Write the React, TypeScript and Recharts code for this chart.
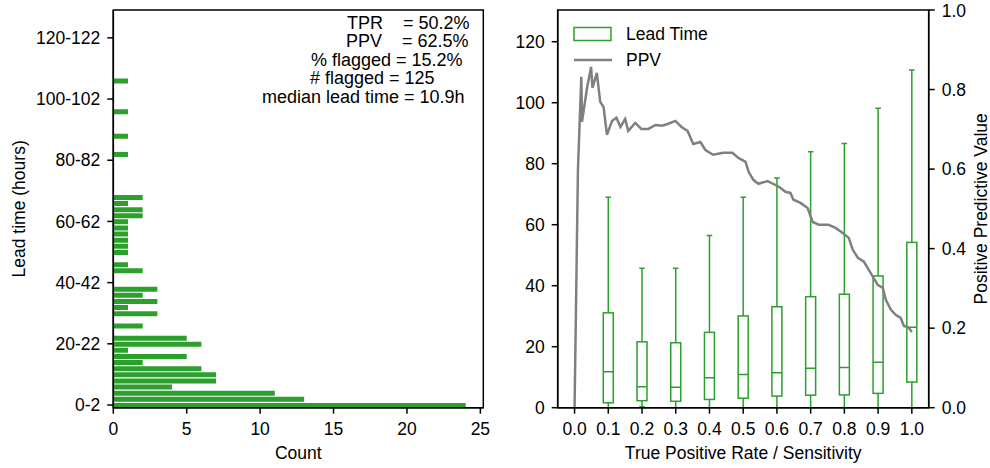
import React from 'react';
import {
  BarChart,
  Bar,
  ComposedChart,
  Line,
  XAxis,
  YAxis,
  ReferenceArea,
  Legend,
} from 'recharts';

const FONT = '"Liberation Sans", Arial, Helvetica, sans-serif';
const GREEN = '#2ca02c';
const GREY = '#808080';
const AXIS = { stroke: '#000', strokeWidth: 1.5 };
const TICK = { fill: '#000', fontSize: 17.5, fontFamily: FONT };
const BOX_W = 10;

// lead-time histogram: count of flagged cases per 2 h bin (bin 0 = 0-2 h)
const binCounts = [
  24, 13, 11, 4, 7, 7, 6, 2, 5, 1,
  6, 5, 0, 2, 0, 3, 1, 3, 2, 3,
  0, 0, 2, 1, 0, 1, 1, 1, 1, 1,
  1, 2, 2, 1, 2, 0, 0, 0, 0, 0,
  0, 1, 0, 0, 1, 0, 0, 0, 1, 0,
  0, 0, 0, 1,
];
const binTicks = [0, 10, 20, 30, 40, 50, 60];
const binTickLabels = ['0-2', '20-22', '40-42', '60-62', '80-82', '100-102', '120-122'];
const countTicks = [0, 5, 10, 15, 20, 25];

const statLines = ['TPR    = 50.2%', 'PPV    = 62.5%', '% flagged = 15.2%', '# flagged = 125', 'median lead time = 10.9h'];

// lead time (hours) box plots per sensitivity level
const tprLevels = [0.1, 0.2, 0.3, 0.4, 0.5, 0.6, 0.7, 0.8, 0.9, 1.0];
const leadLow = [0, 0.3, 0, 0, 0, 0, 0, 0, 0, 0];
const leadQ1 = [1.6, 2.3, 2.1, 2.7, 3.1, 3.8, 4.1, 4.2, 4.7, 8.4];
const leadMedian = [11.8, 6.9, 6.7, 9.8, 10.9, 11.5, 12.9, 13.2, 14.9, 26.4];
const leadQ3 = [31.1, 21.6, 21.3, 24.7, 30.1, 33.1, 36.4, 37.2, 43.2, 54.2];
const leadHigh = [69.0, 45.7, 45.7, 56.5, 69.0, 75.3, 83.9, 86.6, 98.2, 110.7];
const tprTicks = [0, 0.1, 0.2, 0.3, 0.4, 0.5, 0.6, 0.7, 0.8, 0.9, 1.0];
const leadTicks = [0, 20, 40, 60, 80, 100, 120];
const ppvTicks = [0, 0.2, 0.4, 0.6, 0.8, 1.0];

// PPV as a function of TPR
const curveTpr = [
  0, 0.010, 0.020, 0.022, 0.037, 0.049, 0.053, 0.066, 0.076, 0.086,
  0.096, 0.111, 0.124, 0.136, 0.150, 0.159, 0.180, 0.198, 0.219, 0.240,
  0.260, 0.278, 0.299, 0.317, 0.335, 0.352, 0.373, 0.388, 0.411, 0.441,
  0.468, 0.486, 0.507, 0.516, 0.530, 0.545, 0.572, 0.596, 0.610, 0.625,
  0.640, 0.649, 0.670, 0.691, 0.706, 0.724, 0.753, 0.774, 0.795, 0.813,
  0.825, 0.840, 0.858, 0.872, 0.887, 0.899, 0.914, 0.923, 0.938, 0.953,
  0.967, 0.976, 0.991, 1.0,
];
const curvePpv = [
  0, 0.598, 0.832, 0.719, 0.804, 0.857, 0.804, 0.842, 0.769, 0.756,
  0.686, 0.721, 0.729, 0.706, 0.726, 0.696, 0.716, 0.701, 0.701, 0.711,
  0.709, 0.714, 0.721, 0.706, 0.696, 0.663, 0.668, 0.648, 0.636, 0.641,
  0.641, 0.628, 0.618, 0.593, 0.573, 0.563, 0.570, 0.560, 0.553, 0.543,
  0.540, 0.523, 0.515, 0.502, 0.467, 0.460, 0.460, 0.452, 0.439, 0.427,
  0.397, 0.377, 0.367, 0.347, 0.326, 0.309, 0.301, 0.271, 0.246, 0.233,
  0.226, 0.206, 0.201, 0.19,
];

const histData = binCounts.map((count, idx) => ({ idx, count }));
const boxData = tprLevels.map((tpr, i) => ({
  tpr,
  lo: leadLow[i],
  q1: leadQ1[i],
  med: leadMedian[i],
  q3: leadQ3[i],
  hi: leadHigh[i],
}));
const ppvData = curveTpr.map((tpr, i) => ({ tpr, ppv: curvePpv[i] }));

// draws one whisker/box/median glyph inside the [lo, hi] range bar
const BoxShape = (props: any) => {
  const { x, y, width, height, payload } = props;
  if (!payload) return null;
  const top = Math.min(y, y + height);
  const bottom = Math.max(y, y + height);
  const span = payload.hi - payload.lo || 1;
  const py = (v: number) => bottom - ((v - payload.lo) / span) * (bottom - top);
  const cx = x + width / 2;
  const left = cx - BOX_W / 2;
  const cap = BOX_W * 0.28;
  return (
    <g stroke={GREEN} strokeWidth={1.5} fill="none">
      <line x1={cx} x2={cx} y1={py(payload.lo)} y2={py(payload.q1)} />
      <line x1={cx} x2={cx} y1={py(payload.q3)} y2={py(payload.hi)} />
      <line x1={cx - cap} x2={cx + cap} y1={py(payload.lo)} y2={py(payload.lo)} />
      <line x1={cx - cap} x2={cx + cap} y1={py(payload.hi)} y2={py(payload.hi)} />
      <rect x={left} y={py(payload.q3)} width={BOX_W} height={py(payload.q1) - py(payload.q3)} />
      <line x1={left} x2={left + BOX_W} y1={py(payload.med)} y2={py(payload.med)} />
    </g>
  );
};

const renderLegend = (props: any) => {
  const items = props.payload || [];
  return (
    <div style={{ fontFamily: FONT, fontSize: 17.5, color: '#000' }}>
      {items.map((item: any) => (
        <div key={item.value} style={{ display: 'flex', alignItems: 'center', height: 26 }}>
          <svg width={40} height={16} style={{ marginRight: 13 }}>
            {item.type === 'line' ? (
              <line x1={1} x2={39} y1={8} y2={8} stroke={GREY} strokeWidth={2.5} />
            ) : (
              <rect x={1} y={1.5} width={37} height={13} fill="none" stroke={GREEN} strokeWidth={1.5} />
            )}
          </svg>
          <span>{item.value}</span>
        </div>
      ))}
    </div>
  );
};

const xLabel = (text: string, dy: number) => (props: any) => {
  const vb = props.viewBox;
  return (
    <text x={vb.x + vb.width / 2} y={vb.y + dy} textAnchor="middle" fontSize={17.5} fontFamily={FONT} fill="#000">
      {text}
    </text>
  );
};

const yLabel = (text: string, dx: number) => (props: any) => {
  const vb = props.viewBox;
  const x = vb.x + dx;
  const y = vb.y + vb.height / 2;
  return (
    <text x={x} y={y} transform={`rotate(-90, ${x}, ${y})`} textAnchor="middle" fontSize={17.5} fontFamily={FONT} fill="#000">
      {text}
    </text>
  );
};

const StatsBox = () => {
  const starts = [347, 346, 311, 310, 262];
  const baselines = [28.5, 47, 65.5, 84, 102.5];
  return (
    <svg width={500} height={468} style={{ position: 'absolute', left: 0, top: 0, pointerEvents: 'none' }}>
      {statLines.map((line, i) => (
        <text key={line} x={starts[i]} y={baselines[i]} fontSize={18} fontFamily={FONT} fill="#000" style={{ whiteSpace: 'pre' }}>
          {line}
        </text>
      ))}
    </svg>
  );
};

const LeadTimeHistogram = () => (
  <div style={{ position: 'absolute', left: 0, top: 0, width: 500, height: 468 }}>
    <BarChart
      width={500}
      height={468}
      data={histData}
      layout="vertical"
      margin={{ top: 10, right: 16.7, bottom: 0, left: 0 }}
      style={{ fontFamily: FONT }}
    >
      <XAxis
        type="number"
        dataKey="count"
        domain={[0, 25.2]}
        allowDataOverflow
        ticks={countTicks}
        height={60.3}
        tick={TICK}
        tickSize={6}
        tickMargin={9}
        axisLine={AXIS}
        tickLine={AXIS}
        label={{ content: xLabel('Count', 51.6) }}
      />
      <YAxis
        type="number"
        dataKey="idx"
        domain={[-0.44, 64.55]}
        allowDataOverflow
        reversed
        ticks={binTicks}
        tickFormatter={(v: number) => binTickLabels[binTicks.indexOf(v)]}
        width={113.3}
        tick={TICK}
        tickSize={6}
        tickMargin={7}
        axisLine={AXIS}
        tickLine={AXIS}
        label={{ content: yLabel('Lead time (hours)', 25.5) }}
      />
      <ReferenceArea x1={0} x2={25.2} y1={-0.44} y2={64.55} fill="none" stroke="#000" strokeWidth={1.5} ifOverflow="visible" />
      <Bar dataKey="count" fill={GREEN} barSize={5} isAnimationActive={false} />
    </BarChart>
    <StatsBox />
  </div>
);

const SensitivityChart = () => (
  <div style={{ position: 'absolute', left: 500, top: 0, width: 490, height: 468 }}>
    <ComposedChart
      width={490}
      height={468}
      data={boxData}
      margin={{ top: 10, right: 0, bottom: 0, left: 0 }}
      style={{ fontFamily: FONT }}
    >
      <XAxis
        type="number"
        dataKey="tpr"
        domain={[-0.05, 1.05]}
        allowDataOverflow
        ticks={tprTicks}
        tickFormatter={(v: number) => v.toFixed(1)}
        height={60.3}
        tick={TICK}
        tickSize={6}
        tickMargin={9}
        axisLine={AXIS}
        tickLine={AXIS}
        label={{ content: xLabel('True Positive Rate / Sensitivity', 51) }}
      />
      <YAxis
        yAxisId="lead"
        type="number"
        domain={[0, 130.4]}
        allowDataOverflow
        ticks={leadTicks}
        width={57.7}
        tick={TICK}
        tickSize={6}
        tickMargin={7}
        axisLine={AXIS}
        tickLine={AXIS}
      />
      <YAxis
        yAxisId="ppv"
        orientation="right"
        type="number"
        domain={[0, 1]}
        allowDataOverflow
        ticks={ppvTicks}
        tickFormatter={(v: number) => v.toFixed(1)}
        width={61.3}
        tick={TICK}
        tickSize={6}
        tickMargin={7}
        axisLine={AXIS}
        tickLine={AXIS}
        label={{ content: yLabel('Positive Predictive Value', 58) }}
      />
      <ReferenceArea yAxisId="lead" x1={-0.05} x2={1.05} y1={0} y2={130.4} fill="none" stroke="#000" strokeWidth={1.5} ifOverflow="visible" />
      <Bar
        yAxisId="lead"
        name="Lead Time"
        dataKey={(d: any) => [d.lo, d.hi]}
        barSize={10}
        fill="none"
        stroke={GREEN}
        legendType="rect"
        shape={BoxShape}
        isAnimationActive={false}
      />
      <Line
        yAxisId="ppv"
        name="PPV"
        data={ppvData}
        dataKey="ppv"
        type="linear"
        stroke={GREY}
        strokeWidth={2.5}
        dot={false}
        legendType="line"
        isAnimationActive={false}
      />
      <Legend
        layout="vertical"
        align="center"
        verticalAlign="middle"
        content={renderLegend}
        wrapperStyle={{ left: 73, top: 21, width: 200, height: 52 }}
      />
    </ComposedChart>
  </div>
);

export default function App() {
  return (
    <div style={{ position: 'absolute', left: 0, top: 0, width: 990, height: 468, background: '#fff' }}>
      <LeadTimeHistogram />
      <SensitivityChart />
    </div>
  );
}
